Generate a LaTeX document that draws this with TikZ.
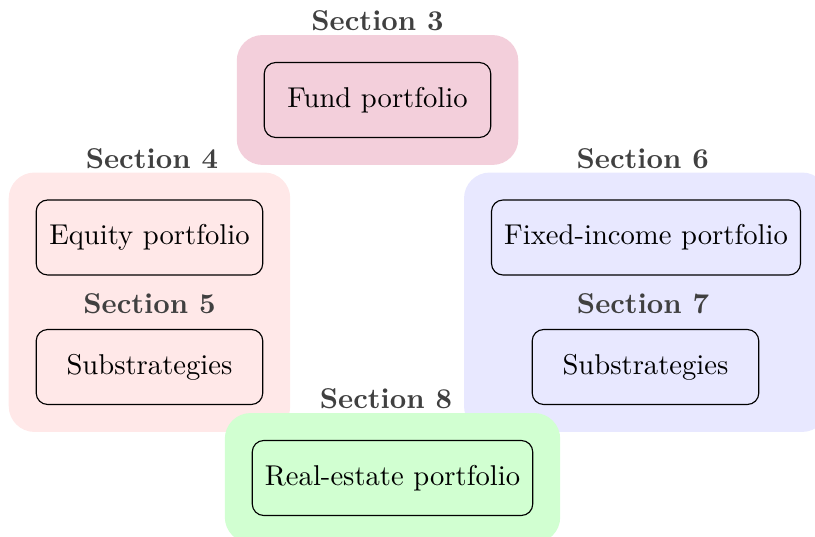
\documentclass[tikz,border=0pt]{standalone}
\usetikzlibrary{positioning,fit,backgrounds}
\begin{document}
\begin{tikzpicture}[line join=round]
				\tikzset{
						part/.style={draw,rounded corners=4pt,inner xsep=4.4pt,minimum width=2.78cm,minimum height=0.92cm},
						sect/.style={font=\bfseries,text=black!75,inner sep=1pt},
						bgbox/.style={rounded corners=9pt,inner sep=0.33cm},
				}
				\useasboundingbox (0,0) rectangle (10,-6.577);
				% portfolios
				\node[part] (fund) at (4.632,-1.227) {Fund portfolio};
				\node[part] (equity) at (1.834,-2.914) {Equity portfolio};
				\node[part] (substratL) at (1.834,-4.503) {Substrategies};
				\node[part] (fixed) at (7.926,-2.914) {Fixed-income portfolio};
				\node[part] (substratR) at (7.920,-4.503) {Substrategies};
				\node[part] (realestate) at (4.816,-5.865) {Real-estate portfolio};
				% coloured groups
				\begin{scope}[on background layer]
					\node[bgbox,fill=purple!19,fit=(fund)] (bgfund) {};
					\node[bgbox,fill=red!9,fit=(equity)(substratL)] (bgequity) {};
					\node[bgbox,fill=blue!9,fit=(fixed)(substratR)] (bgfixed) {};
					\node[bgbox,fill=green!18,fit=(realestate)] (bgreal) {};
				\end{scope}
				% section labels
				\node[sect,above=0pt of bgfund] (sec3) {Section 3};
				\node[sect,above=0pt of bgequity,xshift=0.03cm] (sec4) {Section 4};
				\node[sect,above=4pt of substratL] (sec5) {Section 5};
				\node[sect,above=0pt of bgfixed,xshift=-0.04cm] (sec6) {Section 6};
				\node[sect,above=4pt of substratR,xshift=-0.03cm] (sec7) {Section 7};
				\node[sect,above=0pt of bgreal,xshift=-0.08cm] (sec8) {Section 8};
\end{tikzpicture}
\end{document}
